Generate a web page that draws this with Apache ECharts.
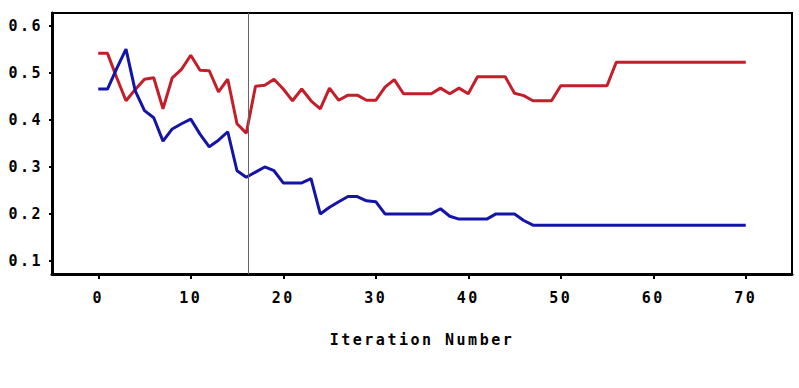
<!DOCTYPE html>
<html>
<head>
<meta charset="utf-8">
<script src="https://cdn.jsdelivr.net/npm/echarts@6/dist/echarts.min.js"></script>
<style>
  html, body { margin: 0; padding: 0; background: #fff; }
  #chart { width: 799px; height: 388px; }
  #chart text { letter-spacing: 2.5px; }
</style>
</head>
<body>
<div id="chart"></div>
<script>
// Iteration numbers 0..70
const iterations = Array.from({length: 71}, (_, i) => i);

// Red series (upper line)
const redValues = [
  0.542, 0.542, 0.490, 0.441, 0.465, 0.487, 0.490, 0.424, 0.490, 0.508,
  0.538, 0.506, 0.505, 0.460, 0.487, 0.392, 0.372, 0.472, 0.474, 0.487,
  0.466, 0.441, 0.466, 0.441, 0.424, 0.468, 0.442, 0.453, 0.453, 0.442,
  0.442, 0.470, 0.486, 0.456, 0.456, 0.456, 0.456, 0.468, 0.456, 0.468,
  0.456, 0.492, 0.492, 0.492, 0.492, 0.457, 0.452, 0.441, 0.441, 0.441,
  0.473, 0.473, 0.473, 0.473, 0.473, 0.473, 0.523, 0.523, 0.523, 0.523,
  0.523, 0.523, 0.523, 0.523, 0.523, 0.523, 0.523, 0.523, 0.523, 0.523,
  0.523
];

// Blue series (lower line)
const blueValues = [
  0.466, 0.466, 0.510, 0.551, 0.462, 0.420, 0.405, 0.355, 0.381, 0.392,
  0.402, 0.370, 0.343, 0.357, 0.375, 0.292, 0.278, 0.289, 0.300, 0.292,
  0.266, 0.266, 0.266, 0.275, 0.200, 0.214, 0.226, 0.237, 0.237, 0.228,
  0.226, 0.200, 0.200, 0.200, 0.200, 0.200, 0.200, 0.211, 0.195, 0.189,
  0.189, 0.189, 0.189, 0.200, 0.200, 0.200, 0.186, 0.176, 0.176, 0.176,
  0.176, 0.176, 0.176, 0.176, 0.176, 0.176, 0.176, 0.176, 0.176, 0.176,
  0.176, 0.176, 0.176, 0.176, 0.176, 0.176, 0.176, 0.176, 0.176, 0.176,
  0.176
];

// Tick labels
const xTicks = [0, 10, 20, 30, 40, 50, 60, 70];
const yTicks = [0.1, 0.2, 0.3, 0.4, 0.5, 0.6];

// Reference (selected iteration) line
const refIteration = 16.2;

const xTitle = 'Iteration Number';

const font = '"DejaVu Sans Mono", monospace';

const chart = echarts.init(document.getElementById('chart'), null, {renderer: 'svg'});
chart.setOption({
  animation: false,
  backgroundColor: '#ffffff',
  grid: {
    left: 52, right: 7, top: 13, bottom: 114,
    show: true, borderColor: '#000', borderWidth: 2, backgroundColor: 'transparent'
  },
  xAxis: {
    type: 'value', min: -5, max: 75,
    axisLine: {show: true, onZero: false, lineStyle: {color: '#000', width: 3}},
    axisTick: {show: true, length: 5, lineStyle: {color: '#000', width: 2}, customValues: xTicks},
    axisLabel: {
      customValues: xTicks, margin: 16,
      color: '#000', fontFamily: font, fontWeight: 'bold', fontSize: 15
    },
    splitLine: {show: false},
    name: xTitle, nameLocation: 'middle', nameGap: 58,
    nameTextStyle: {color: '#000', fontFamily: font, fontWeight: 'bold', fontSize: 15}
  },
  yAxis: {
    type: 'value', min: 0.072, max: 0.628,
    axisLine: {show: true, onZero: false, lineStyle: {color: '#000', width: 3}},
    axisTick: {show: true, length: 3, lineStyle: {color: '#000', width: 2}, customValues: yTicks},
    axisLabel: {
      customValues: yTicks, margin: 9,
      formatter: v => v.toFixed(1),
      color: '#000', fontFamily: font, fontWeight: 'bold', fontSize: 15
    },
    splitLine: {show: false}
  },
  series: [
    {
      type: 'line', name: 'red',
      data: iterations.map((x, i) => [x, redValues[i]]),
      showSymbol: false, symbol: 'none',
      lineStyle: {color: '#c41e2a', width: 3},
      z: 3,
      markLine: {
        silent: true, symbol: 'none', label: {show: false},
        lineStyle: {color: '#666', width: 1, type: 'solid'},
        data: [{xAxis: refIteration}]
      }
    },
    {
      type: 'line', name: 'blue',
      data: iterations.map((x, i) => [x, blueValues[i]]),
      showSymbol: false, symbol: 'none',
      lineStyle: {color: '#1414a8', width: 3},
      z: 4
    }
  ]
});
</script>
</body>
</html>
